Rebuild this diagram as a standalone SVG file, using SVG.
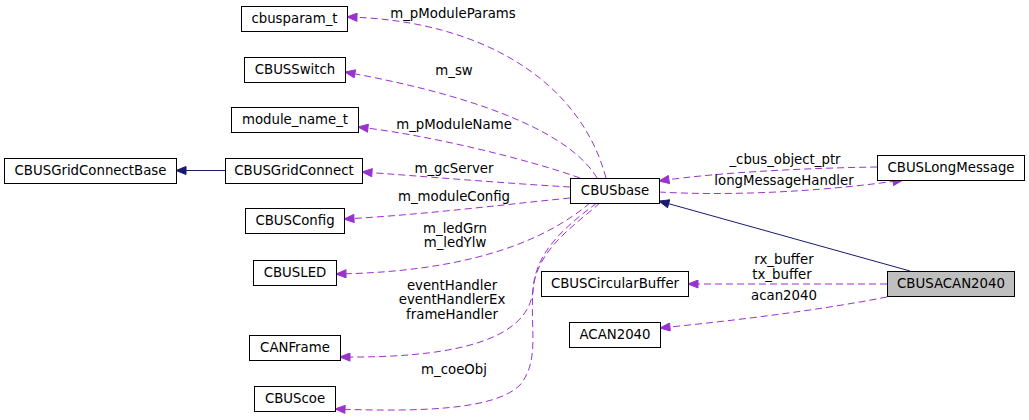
<svg xmlns="http://www.w3.org/2000/svg" width="1029" height="420" viewBox="0 0 1029 420">
<style>
.n rect{fill:#fff;stroke:#000;stroke-width:1}
.n text,.l text{font-family:"DejaVu Sans",sans-serif;font-size:13.3px;text-anchor:middle;fill:#000}
.d{fill:none;stroke:#9a32cd;stroke-width:1;stroke-dasharray:7,4}
.s{fill:none;stroke:#191970;stroke-width:1}
</style>
<defs>
<marker id="ap" markerUnits="userSpaceOnUse" markerWidth="12" markerHeight="9" refX="11" refY="4.5" orient="auto" viewBox="0 0 12 9">
<path d="M1,0.5 L11,4.5 L1,8.5 z" fill="#9a32cd" stroke="#9a32cd"/>
</marker>
<marker id="an" markerUnits="userSpaceOnUse" markerWidth="12" markerHeight="9" refX="11" refY="4.5" orient="auto" viewBox="0 0 12 9">
<path d="M1,0.5 L11,4.5 L1,8.5 z" fill="#191970" stroke="#191970"/>
</marker>
</defs>
<rect width="1029" height="420" fill="#fff"/>
<g id="edges">
<path class="d" marker-end="url(#ap)" d="M606,178 C580,80 480,20 347,17"/>
<path class="d" marker-end="url(#ap)" d="M597,178 C575,140 500,100 345,72"/>
<path class="d" marker-end="url(#ap)" d="M580,178 C530,160 430,135 358,127"/>
<path class="d" marker-end="url(#ap)" d="M570,187 C500,183 420,176 362,172"/>
<path class="d" marker-end="url(#ap)" d="M570,198 C500,205 420,215 344,219"/>
<path class="d" marker-end="url(#ap)" d="M590,203 C540,245 460,272 336,274"/>
<path class="d" marker-end="url(#ap)" d="M597,203 C560,230 535,255 533,290 C528,345 440,358 340,357"/>
<path class="d" marker-end="url(#ap)" d="M600,203 C575,225 536,250 533,290 C530,330 540,360 520,385 C495,410 420,412 335,409"/>
<path class="d" marker-end="url(#ap)" d="M877,167 C810,168 720,172 659,181"/>
<path class="d" marker-end="url(#ap)" d="M659,192 C730,196 820,192 903,180"/>
<path class="s" marker-end="url(#an)" d="M910,271 L659,201"/>
<path class="s" marker-end="url(#an)" d="M225,170.5 L176,170.5"/>
<path class="d" marker-end="url(#ap)" d="M887,284 L688,284"/>
<path class="d" marker-end="url(#ap)" d="M887,297 C820,310 740,320 660,328"/>
<g class="l">
<text x="453" y="18">m_pModuleParams</text>
<text x="454" y="75">m_sw</text>
<text x="454" y="129">m_pModuleName</text>
<text x="454" y="173">m_gcServer</text>
<text x="454" y="201">m_moduleConfig</text>
<text x="455" y="233">m_ledGrn</text>
<text x="455" y="247">m_ledYlw</text>
<text x="452" y="290">eventHandler</text>
<text x="452" y="304">eventHandlerEx</text>
<text x="452" y="319">frameHandler</text>
<text x="454" y="374">m_coeObj</text>
<text x="785" y="164">_cbus_object_ptr</text>
<text x="784" y="185">longMessageHandler</text>
<text x="784" y="264">rx_buffer</text>
<text x="782" y="279">tx_buffer</text>
<text x="784" y="300">acan2040</text>
</g>
</g>
<g id="cbusparam_t" class="n"><rect x="241.5" y="6.5" width="106" height="25"/><text x="294.5" y="23">cbusparam_t</text></g>
<g id="CBUSSwitch" class="n"><rect x="244.5" y="57.5" width="101" height="25"/><text x="295" y="74">CBUSSwitch</text></g>
<g id="module_name_t" class="n"><rect x="231.5" y="107.5" width="127" height="25"/><text x="295" y="124">module_name_t</text></g>
<g id="CBUSGridConnectBase" class="n"><rect x="4.5" y="158.5" width="172" height="25"/><text x="90.5" y="175">CBUSGridConnectBase</text></g>
<g id="CBUSGridConnect" class="n"><rect x="225.5" y="158.5" width="137" height="25"/><text x="294" y="175">CBUSGridConnect</text></g>
<g id="CBUSConfig" class="n"><rect x="245.5" y="208.5" width="99" height="25"/><text x="295" y="225">CBUSConfig</text></g>
<g id="CBUSLED" class="n"><rect x="253.5" y="260.5" width="83" height="25"/><text x="295" y="277">CBUSLED</text></g>
<g id="CANFrame" class="n"><rect x="249.5" y="335.5" width="91" height="25"/><text x="295" y="352">CANFrame</text></g>
<g id="CBUScoe" class="n"><rect x="254.5" y="386.5" width="81" height="25"/><text x="295" y="403">CBUScoe</text></g>
<g id="CBUSbase" class="n"><rect x="570.5" y="178.5" width="89" height="25"/><text x="615" y="195">CBUSbase</text></g>
<g id="CBUSLongMessage" class="n"><rect x="877.5" y="155.5" width="147" height="25"/><text x="951" y="172">CBUSLongMessage</text></g>
<g id="CBUSCircularBuffer" class="n"><rect x="541.5" y="271.5" width="147" height="25"/><text x="615" y="288">CBUSCircularBuffer</text></g>
<g id="ACAN2040" class="n"><rect x="569.5" y="322.5" width="91" height="25"/><text x="615" y="339">ACAN2040</text></g>
<g id="CBUSACAN2040" class="n"><rect x="887.5" y="271.5" width="127" height="25" style="fill:#bfbfbf"/><text x="951" y="288">CBUSACAN2040</text></g>
</svg>
